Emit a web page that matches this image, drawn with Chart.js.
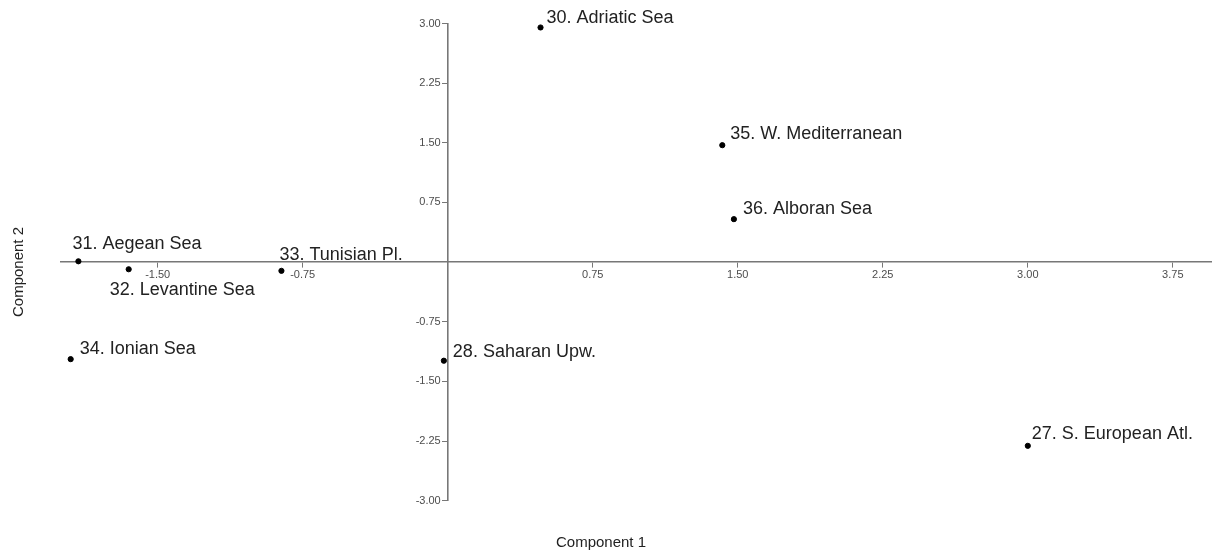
<!DOCTYPE html>
<html>
<head>
<meta charset="utf-8">
<script src="https://cdn.jsdelivr.net/npm/chart.js@4/dist/chart.umd.min.js"></script>
<style>
  html, body { margin: 0; padding: 0; background: #fff; }
  #wrap { width: 1216px; height: 552px; }
</style>
</head>
<body>
<div id="wrap"><canvas id="c" width="1216" height="552"></canvas></div>
<script>
// ---- data ----
const regionLabels = [
  "30. Adriatic Sea", "35. W. Mediterranean", "36. Alboran Sea",
  "31. Aegean Sea", "32. Levantine Sea", "33. Tunisian Pl.",
  "34. Ionian Sea", "28. Saharan Upw.", "27. S. European Atl."
];
const component1 = [0.48, 1.42, 1.48, -1.91, -1.65, -0.86, -1.95, -0.02, 3.00];
const component2 = [2.95, 1.47, 0.54, 0.01, -0.09, -0.11, -1.22, -1.24, -2.31];
const xTickValues = [-1.5, -0.75, 0.75, 1.5, 2.25, 3.0, 3.75];
const yTickValues = [3.0, 2.25, 1.5, 0.75, -0.75, -1.5, -2.25, -3.0];
const xTitle = "Component 1";
const yTitle = "Component 2";

// label offsets (style: where each text sits relative to its point)
const labelOffsets = [
  [6, -9], [8, -11], [9, -10],
  [-6, -17], [-19, 21], [-2, -16],
  [9, -10], [9, -9], [4, -12]
];

const axisColor = "#777777";
const tickColor = "#4d4d4d";
const font = "'Liberation Sans', Arial, sans-serif";
const tickFont = { family: font, size: 11 };

const pointLabels = {
  id: "pointLabels",
  afterDatasetsDraw(chart) {
    const ctx = chart.ctx;
    const meta = chart.getDatasetMeta(0);
    ctx.save();
    ctx.font = "18px " + font;
    ctx.fillStyle = "#222";
    ctx.textAlign = "left";
    ctx.textBaseline = "middle";
    meta.data.forEach((pt, i) => {
      const [dx, dy] = labelOffsets[i];
      ctx.fillText(regionLabels[i], pt.x + dx, pt.y + dy);
    });
    ctx.restore();
  }
};

// y tick labels drawn next to the centred y axis, from the scale's own ticks
const yTickLabels = {
  id: "yTickLabels",
  afterDraw(chart) {
    const ctx = chart.ctx;
    const ys = chart.scales.y;
    const xs = chart.scales.x;
    const axisX = xs.getPixelForValue(0);
    ctx.save();
    ctx.font = tickFont.size + "px " + font;
    ctx.fillStyle = tickColor;
    ctx.textAlign = "right";
    ctx.textBaseline = "middle";
    ys.ticks.forEach(t => {
      ctx.fillText(Number(t.value).toFixed(2), axisX - 7, ys.getPixelForValue(t.value));
    });
    ctx.restore();
  }
};

const axisTitles = {
  id: "axisTitles",
  afterDraw(chart) {
    const ctx = chart.ctx;
    const ca = chart.chartArea;
    ctx.save();
    ctx.font = "15px " + font;
    ctx.fillStyle = "#222";
    ctx.textAlign = "center";
    ctx.textBaseline = "middle";
    ctx.fillText(xTitle, 601, ca.bottom + 42);
    ctx.translate(19, 272);
    ctx.rotate(-Math.PI / 2);
    ctx.fillText(yTitle, 0, 0);
    ctx.restore();
  }
};

new Chart(document.getElementById("c"), {
  type: "scatter",
  data: {
    datasets: [{
      data: component1.map((x, i) => ({ x, y: component2[i] })),
      backgroundColor: "#000",
      borderColor: "#000",
      pointRadius: 2.6,
      pointHoverRadius: 2.6
    }]
  },
  options: {
    responsive: false,
    animation: false,
    events: [],
    layout: { padding: { left: 61, top: 23.5, right: 4.5, bottom: 51.3 } },
    plugins: { legend: { display: false }, tooltip: { enabled: false } },
    scales: {
      x: {
        type: "linear",
        min: -2.0,
        max: 3.95,
        position: { y: 0 },
        afterFit: s => { s.height = 0; },
        afterBuildTicks: s => { s.ticks = xTickValues.map(v => ({ value: v })); },
        border: { display: true, color: axisColor, width: 1.6 },
        grid: { display: true, drawOnChartArea: false, drawTicks: true, tickLength: 5, color: axisColor, lineWidth: 1 },
        ticks: {
          autoSkip: false, maxRotation: 0, padding: 1,
          color: tickColor, font: tickFont,
          callback: v => Number(v).toFixed(2)
        }
      },
      y: {
        type: "linear",
        min: -3,
        max: 3,
        position: { x: 0 },
        afterFit: s => { s.width = 0; },
        afterBuildTicks: s => { s.ticks = yTickValues.map(v => ({ value: v })); },
        border: { display: true, color: axisColor, width: 1.6 },
        grid: { display: true, drawOnChartArea: false, drawTicks: true, tickLength: 5, color: axisColor, lineWidth: 1 },
        ticks: { display: false }
      }
    }
  },
  plugins: [pointLabels, yTickLabels, axisTitles]
});
</script>
</body>
</html>
